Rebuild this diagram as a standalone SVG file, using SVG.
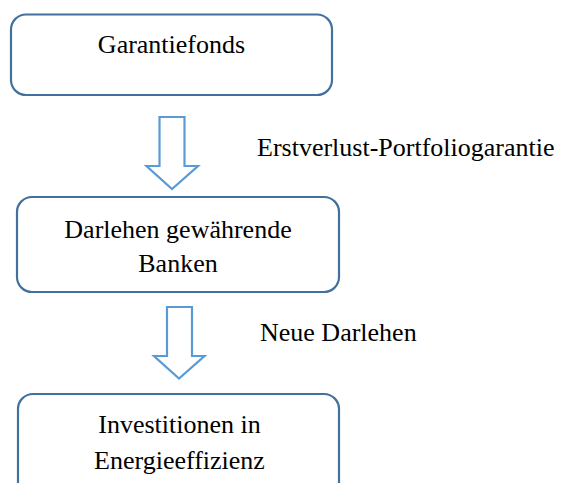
<svg xmlns="http://www.w3.org/2000/svg" width="564" height="483" viewBox="0 0 564 483">
<style>
.box{fill:#ffffff;stroke:#41719C;stroke-width:2.2}
.arr{fill:#ffffff;stroke:#5B9BD5;stroke-width:2.2;stroke-linejoin:miter}
.t{font-family:'Liberation Serif','Times New Roman','DejaVu Serif',serif;font-size:26px;fill:#000000}
.c{text-anchor:middle}
</style>
<rect width="564" height="483" fill="#ffffff"/>
<g id="connectors">
<polygon class="arr" points="159.5,117 184.5,117 184.5,166 198,166 172,189 146.5,166 159.5,166"/>
<polygon class="arr" points="167,307 192,307 192,356 204.5,356 179,378.5 154,356 167,356"/>
<text class="t" font-family="Liberation Serif" x="257" y="156">Erstverlust-Portfoliogarantie</text>
<text class="t" font-family="Liberation Serif" x="260" y="341">Neue Darlehen</text>
</g>
<g id="garantiefonds">
<rect class="box" x="11" y="14.5" width="321" height="80.5" rx="15"/>
<text class="t c" font-family="Liberation Serif" x="171.5" y="53">Garantiefonds</text>
</g>
<g id="banken">
<rect class="box" x="17" y="197" width="322" height="95" rx="15"/>
<text class="t c" font-family="Liberation Serif" x="178" y="238">Darlehen gewährende</text>
<text class="t c" font-family="Liberation Serif" x="178" y="272">Banken</text>
</g>
<g id="investitionen">
<rect class="box" x="18" y="394" width="321" height="110" rx="15"/>
<text class="t c" font-family="Liberation Serif" x="179.5" y="433">Investitionen in</text>
<text class="t c" font-family="Liberation Serif" x="179.5" y="469">Energieeffizienz</text>
</g>
</svg>
